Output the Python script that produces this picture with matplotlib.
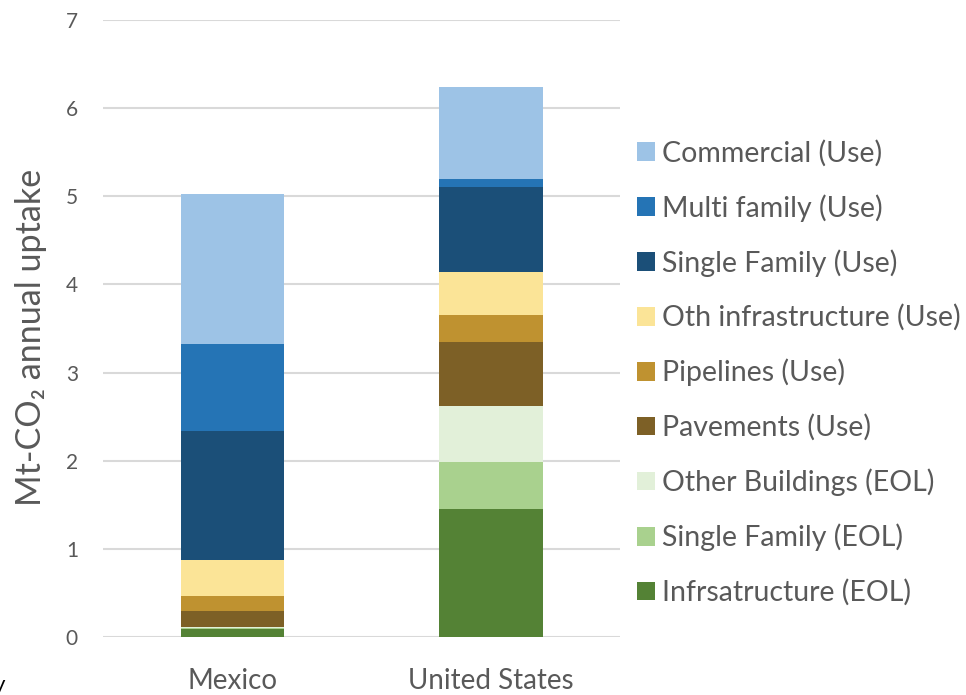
import matplotlib.pyplot as plt
import numpy as np

plt.rcParams['font.family'] = ['Lato', 'DejaVu Sans']

countries = ['Mexico', 'United States']

# stacked from the bottom up, Mt-CO2 per year
categories = [
    'Infrsatructure (EOL)',
    'Single Family (EOL)',
    'Other Buildings (EOL)',
    'Pavements (Use)',
    'Pipelines (Use)',
    'Oth infrastructure (Use)',
    'Single Family (Use)',
    'Multi family (Use)',
    'Commercial (Use)',
]
mexico = [0.087, 0.010, 0.013, 0.19, 0.17, 0.40, 1.47, 0.98, 1.71]
united_states = [1.45, 0.54, 0.63, 0.73, 0.30, 0.49, 0.97, 0.09, 1.04]

colors = ['#548235', '#A9D18E', '#E2F0D9', '#7D6026', '#BF9230',
          '#FBE497', '#1B4F78', '#2574B5', '#9DC3E6']

grey = '#595959'

fig = plt.figure(figsize=(9.66, 6.95), dpi=100)
ax = fig.add_axes([0.1066, 0.0835, 0.5354, 0.8877])

x = np.arange(len(countries))
bottom = np.zeros(len(countries))
for name, m, u, c in zip(categories, mexico, united_states, colors):
    vals = np.array([m, u])
    ax.bar(x, vals, width=0.4, bottom=bottom, color=c, label=name, zorder=3)
    bottom += vals

ax.set_xlim(-0.5, 1.5)
ax.set_ylim(0, 7)
ax.set_yticks(range(8))
ax.grid(axis='y', color='#D9D9D9', linewidth=1.5, zorder=0)
for s in ax.spines.values():
    s.set_visible(False)

ax.set_xticks(x)
ax.set_xticklabels(countries, fontsize=20, color=grey)
ax.tick_params(axis='x', length=0, pad=22)
ax.tick_params(axis='y', length=0, pad=18, labelsize=15, labelcolor=grey)

ax.set_ylabel('Mt-CO₂ annual uptake', fontsize=24.6, color=grey)
ax.yaxis.set_label_coords(-0.108, 0.486)

handles, labels = ax.get_legend_handles_labels()
fig.legend(handles[::-1], labels[::-1], loc='upper left',
           bbox_to_anchor=(0.648, 0.8158), frameon=False, fontsize=20.5,
           labelcolor=grey, handlelength=0.63, handleheight=0.63,
           handletextpad=0.25, labelspacing=0.97, borderaxespad=0)

# stray glyph cut off at the lower left edge
fig.text(-0.006, 0.0, 'y', fontsize=16, color='black', va='bottom')

fig.savefig('out.png', dpi=100)
